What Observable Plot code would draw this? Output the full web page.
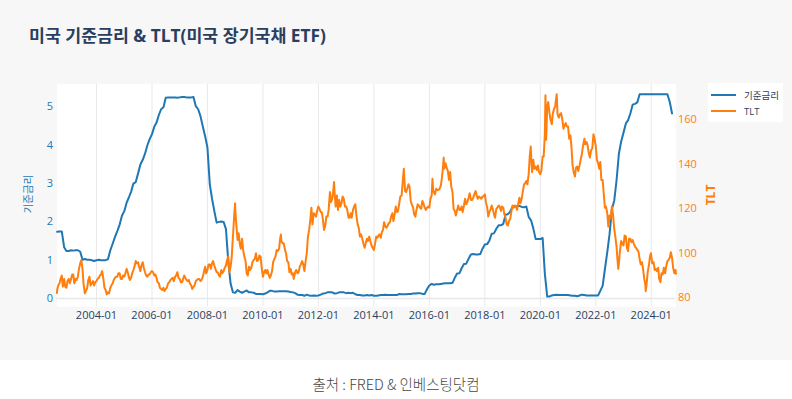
<!DOCTYPE html>
<html>
<head>
<meta charset="utf-8">
<script src="https://cdn.jsdelivr.net/npm/d3@7"></script>
<script src="https://cdn.jsdelivr.net/npm/@observablehq/plot@0.6"></script>
<style>
  html, body { margin: 0; padding: 0; background: #ffffff; }
  #wrap { position: relative; width: 792px; height: 399px; overflow: hidden; background: #ffffff;
          font-family: "Open Sans", "Noto Sans CJK KR", sans-serif; }
  #panel { position: absolute; left: 0; top: 0; width: 792px; height: 360px; background: #f7f7f7; }
  #title { position: absolute; left: 29px; top: 22px; font-size: 17.3px; font-weight: 700; color: #2a3f5f; white-space: nowrap; }
  .ytitle { position: absolute; white-space: nowrap; transform: translate(-50%, -50%) rotate(-90deg); }
  #ylab { left: 27px; top: 194px; font-size: 10.5px; color: #1f77b4; }
  #y2lab { left: 710px; top: 195px; font-size: 12px; font-weight: 700; color: #ff7f0e; }
  #legend { position: absolute; left: 708px; top: 83px; width: 75px; height: 39px; background: #ffffff; }
  .li { position: absolute; left: 3px; height: 14px; display: flex; align-items: center; font-size: 9.5px; color: #2a3f5f; white-space: nowrap; }
  .li span.sw { display: inline-block; width: 25px; height: 2px; margin-right: 8px; }
  #caption { position: absolute; left: 0; width: 792px; top: 373px; text-align: center; font-family: "Noto Sans CJK KR", sans-serif; font-weight: 300; font-size: 14.5px; color: #444; }
</style>
</head>
<body>
<div id="wrap">
  <div id="panel"></div>
  <div id="title">미국 기준금리 &amp; TLT(미국 장기국채 ETF)</div>
  <div id="layers"></div>
  <div id="ylab" class="ytitle">기준금리</div>
  <div id="y2lab" class="ytitle">TLT</div>
  <div id="legend">
    <div class="li" style="top:5px"><span class="sw" style="background:#1f77b4"></span>기준금리</div>
    <div class="li" style="top:21px"><span class="sw" style="background:#ff7f0e"></span>TLT</div>
  </div>
  <div id="caption">출처 : FRED &amp; 인베스팅닷컴</div>
</div>
<script>
// ---- data ----
// US effective federal funds rate (monthly), starting Aug 2002
const fedStartYear = 2002, fedStartMonth = 7; // 0-based month (Aug)
const fedRate = [
  1.74, 1.75, 1.75, 1.34, 1.24,
  1.24, 1.26, 1.25, 1.26, 1.26, 1.22, 1.01, 1.03, 1.01, 1.01, 1.00, 0.98,
  1.00, 1.01, 1.00, 1.00, 1.00, 1.03, 1.26, 1.43, 1.61, 1.76, 1.93, 2.16,
  2.28, 2.50, 2.63, 2.79, 3.00, 3.04, 3.26, 3.50, 3.62, 3.78, 4.00, 4.16,
  4.29, 4.49, 4.59, 4.79, 4.94, 4.99, 5.24, 5.25, 5.25, 5.25, 5.25, 5.24,
  5.25, 5.26, 5.26, 5.25, 5.25, 5.25, 5.26, 5.02, 4.94, 4.76, 4.49, 4.24,
  3.94, 2.98, 2.61, 2.28, 1.98, 2.00, 2.01, 2.00, 1.81, 0.97, 0.39, 0.16,
  0.15, 0.22, 0.18, 0.15, 0.18, 0.21, 0.16, 0.16, 0.15, 0.12, 0.12, 0.12,
  0.11, 0.13, 0.16, 0.20, 0.20, 0.18, 0.18, 0.19, 0.19, 0.19, 0.19, 0.18,
  0.17, 0.16, 0.14, 0.10, 0.09, 0.09, 0.07, 0.10, 0.08, 0.07, 0.08, 0.07,
  0.08, 0.10, 0.13, 0.14, 0.16, 0.16, 0.16, 0.13, 0.14, 0.16, 0.16, 0.16,
  0.14, 0.15, 0.14, 0.15, 0.11, 0.09, 0.09, 0.08, 0.08, 0.09, 0.08, 0.09,
  0.07, 0.07, 0.08, 0.09, 0.09, 0.10, 0.09, 0.09, 0.09, 0.09, 0.09, 0.12,
  0.11, 0.11, 0.11, 0.12, 0.12, 0.13, 0.13, 0.14, 0.14, 0.12, 0.12, 0.24,
  0.34, 0.38, 0.36, 0.37, 0.37, 0.38, 0.39, 0.40, 0.40, 0.40, 0.41, 0.54,
  0.65, 0.66, 0.79, 0.90, 0.91, 1.04, 1.15, 1.16, 1.15, 1.15, 1.16, 1.30,
  1.41, 1.42, 1.51, 1.69, 1.70, 1.82, 1.91, 1.91, 1.95, 2.19, 2.20, 2.27,
  2.40, 2.40, 2.41, 2.42, 2.39, 2.38, 2.40, 2.13, 2.04, 1.83, 1.55, 1.55,
  1.55, 1.58, 0.65, 0.05, 0.05, 0.08, 0.09, 0.10, 0.09, 0.09, 0.09, 0.09,
  0.09, 0.08, 0.07, 0.07, 0.06, 0.08, 0.10, 0.09, 0.08, 0.08, 0.08, 0.08,
  0.08, 0.08, 0.20, 0.33, 0.77, 1.21, 1.68, 2.33, 2.56, 3.08, 3.78, 4.10,
  4.33, 4.57, 4.65, 4.83, 5.06, 5.08, 5.12, 5.33, 5.33, 5.33, 5.33, 5.33,
  5.33, 5.33, 5.33, 5.33, 5.33, 5.33, 5.33, 5.33, 5.13, 4.83
];

// TLT close price (roughly twice a month)
const tltSeries = [
  ["2002-07-30",82.2],["2002-08-01",83.5],["2002-08-15",85.5],["2002-09-01",86.5],["2002-09-15",88.5],["2002-10-01",90.0],["2002-10-15",85.0],["2002-11-01",88.5],["2002-11-15",85.0],["2002-12-01",84.5],["2002-12-15",87.5],
  ["2003-01-01",88.5],["2003-01-15",86.5],["2003-02-01",88.5],["2003-02-15",90.5],["2003-03-01",90.5],["2003-03-15",86.5],["2003-04-01",88.5],["2003-04-15",88.0],["2003-05-01",89.5],["2003-05-15",93.0],["2003-06-01",95.5],["2003-06-15",97.0],["2003-07-01",93.0],["2003-07-15",86.0],["2003-08-01",82.0],["2003-08-15",83.0],["2003-09-01",84.5],["2003-09-15",88.0],["2003-10-01",89.5],["2003-10-15",85.5],["2003-11-01",86.5],["2003-11-15",87.5],["2003-12-01",85.5],["2003-12-15",87.0],
  ["2004-01-01",87.5],["2004-01-15",88.5],["2004-02-01",89.0],["2004-02-15",90.0],["2004-03-01",90.5],["2004-03-15",92.0],["2004-04-01",88.5],["2004-04-15",84.5],["2004-05-01",83.5],["2004-05-15",81.5],["2004-06-01",82.5],["2004-06-15",82.0],["2004-07-01",84.5],["2004-07-15",85.5],["2004-08-01",86.5],["2004-08-15",88.0],["2004-09-01",89.0],["2004-09-15",89.5],["2004-10-01",89.5],["2004-10-15",91.0],["2004-11-01",91.0],["2004-11-15",88.5],["2004-12-01",88.5],["2004-12-15",90.0],
  ["2005-01-01",89.5],["2005-01-15",91.0],["2005-02-01",93.0],["2005-02-15",91.5],["2005-03-01",89.5],["2005-03-15",88.0],["2005-04-01",89.0],["2005-04-15",91.0],["2005-05-01",92.5],["2005-05-15",94.0],["2005-06-01",96.5],["2005-06-15",95.5],["2005-07-01",96.0],["2005-07-15",94.0],["2005-08-01",92.0],["2005-08-15",94.5],["2005-09-01",96.0],["2005-09-15",93.5],["2005-10-01",91.5],["2005-10-15",90.0],["2005-11-01",89.5],["2005-11-15",90.5],["2005-12-01",90.5],["2005-12-15",91.5],
  ["2006-01-01",92.0],["2006-01-15",91.5],["2006-02-01",90.0],["2006-02-15",90.5],["2006-03-01",89.0],["2006-03-15",87.0],["2006-04-01",86.5],["2006-04-15",84.5],["2006-05-01",84.0],["2006-05-15",83.5],["2006-06-01",84.5],["2006-06-15",83.0],["2006-07-01",84.0],["2006-07-15",84.5],["2006-08-01",86.5],["2006-08-15",87.0],["2006-09-01",88.0],["2006-09-15",88.5],["2006-10-01",89.0],["2006-10-15",87.5],["2006-11-01",89.5],["2006-11-15",90.0],["2006-12-01",91.5],["2006-12-15",89.0],
  ["2007-01-01",88.5],["2007-01-15",87.0],["2007-02-01",87.0],["2007-02-15",88.5],["2007-03-01",90.0],["2007-03-15",89.0],["2007-04-01",88.0],["2007-04-15",87.5],["2007-05-01",88.0],["2007-05-15",86.5],["2007-06-01",85.5],["2007-06-15",84.0],["2007-07-01",85.0],["2007-07-15",85.5],["2007-08-01",87.5],["2007-08-15",88.0],["2007-09-01",88.5],["2007-09-15",88.5],["2007-10-01",87.5],["2007-10-15",88.0],["2007-11-01",89.5],["2007-11-15",91.5],["2007-12-01",94.0],["2007-12-15",91.0],
  ["2008-01-01",92.5],["2008-01-15",95.0],["2008-02-01",95.0],["2008-02-15",93.0],["2008-03-01",95.5],["2008-03-15",96.5],["2008-04-01",94.5],["2008-04-15",93.0],["2008-05-01",91.5],["2008-05-15",91.5],["2008-06-01",90.0],["2008-06-15",89.5],["2008-07-01",92.5],["2008-07-15",91.0],["2008-08-01",92.0],["2008-08-15",93.5],["2008-09-01",94.5],["2008-09-15",97.0],["2008-10-01",98.5],["2008-10-15",91.5],["2008-11-01",94.0],["2008-11-15",98.0],["2008-12-01",107.0],["2008-12-15",115.0],["2008-12-30",122.5],
  ["2009-01-01",120.0],["2009-01-15",113.0],["2009-02-01",106.0],["2009-02-15",109.0],["2009-03-01",104.5],["2009-03-15",102.0],["2009-04-01",106.5],["2009-04-15",101.5],["2009-05-01",98.5],["2009-05-15",97.0],["2009-06-01",91.0],["2009-06-15",90.0],["2009-07-01",94.0],["2009-07-15",92.5],["2009-08-01",93.5],["2009-08-15",96.0],["2009-09-01",97.0],["2009-09-15",97.5],["2009-10-01",100.0],["2009-10-15",96.5],["2009-11-01",97.0],["2009-11-15",99.0],["2009-12-01",98.5],["2009-12-15",93.5],
  ["2010-01-01",89.5],["2010-01-15",91.5],["2010-02-01",92.5],["2010-02-15",91.0],["2010-03-01",92.5],["2010-03-15",90.5],["2010-04-01",89.0],["2010-04-15",90.0],["2010-05-01",92.0],["2010-05-15",96.0],["2010-06-01",97.5],["2010-06-15",98.5],["2010-07-01",101.5],["2010-07-15",101.0],["2010-08-01",102.0],["2010-08-15",106.5],["2010-08-25",108.5],["2010-09-01",105.5],["2010-09-15",104.5],["2010-10-01",104.5],["2010-10-15",102.0],["2010-11-01",100.0],["2010-11-15",96.5],["2010-12-01",96.0],["2010-12-15",91.5],
  ["2011-01-01",93.0],["2011-01-15",90.5],["2011-02-01",91.0],["2011-02-10",88.5],["2011-02-15",89.5],["2011-03-01",91.5],["2011-03-15",92.5],["2011-04-01",91.0],["2011-04-15",91.5],["2011-05-01",94.0],["2011-05-15",95.0],["2011-06-01",96.5],["2011-06-15",95.0],["2011-07-01",92.0],["2011-07-15",96.0],["2011-08-01",100.0],["2011-08-15",107.0],["2011-09-01",110.5],["2011-09-15",114.5],["2011-10-01",120.5],["2011-10-15",113.0],["2011-11-01",118.0],["2011-11-15",117.5],["2011-12-01",116.5],["2011-12-15",119.0],
  ["2012-01-01",121.0],["2012-01-15",120.0],["2012-02-01",118.5],["2012-02-15",118.5],["2012-03-01",115.0],["2012-03-15",110.5],["2012-04-01",112.5],["2012-04-15",116.5],["2012-05-01",116.5],["2012-05-15",119.5],["2012-06-01",127.5],["2012-06-15",123.0],["2012-07-01",124.5],["2012-07-15",128.0],["2012-07-25",132.0],["2012-08-01",127.5],["2012-08-15",121.0],["2012-09-01",126.0],["2012-09-15",119.5],["2012-10-01",124.0],["2012-10-15",121.0],["2012-11-01",122.5],["2012-11-15",125.5],["2012-12-01",124.5],["2012-12-15",121.0],
  ["2013-01-01",121.0],["2013-01-15",119.5],["2013-02-01",116.0],["2013-02-15",116.0],["2013-03-01",118.0],["2013-03-15",116.0],["2013-04-01",119.5],["2013-04-15",121.0],["2013-05-01",122.0],["2013-05-15",117.0],["2013-06-01",113.0],["2013-06-15",111.5],["2013-07-01",107.5],["2013-07-15",108.5],["2013-08-01",106.5],["2013-08-15",104.5],["2013-09-01",102.5],["2013-09-15",104.5],["2013-10-01",106.5],["2013-10-15",105.5],["2013-11-01",107.5],["2013-11-15",105.5],["2013-12-01",103.5],["2013-12-15",102.5],
  ["2014-01-01",101.5],["2014-01-15",104.0],["2014-02-01",107.5],["2014-02-15",107.0],["2014-03-01",108.0],["2014-03-15",108.5],["2014-04-01",107.0],["2014-04-15",109.5],["2014-05-01",110.5],["2014-05-15",114.0],["2014-06-01",112.0],["2014-06-15",111.5],["2014-07-01",112.5],["2014-07-15",113.5],["2014-08-01",114.0],["2014-08-15",116.5],["2014-09-01",118.0],["2014-09-15",114.5],["2014-10-01",117.5],["2014-10-15",121.0],["2014-11-01",118.5],["2014-11-15",119.0],["2014-12-01",122.5],["2014-12-15",125.5],
  ["2015-01-01",126.0],["2015-01-15",132.0],["2015-01-30",138.0],["2015-02-15",128.0],["2015-03-01",127.5],["2015-03-15",129.0],["2015-04-01",131.0],["2015-04-15",130.0],["2015-05-01",123.5],["2015-05-15",122.0],["2015-06-01",120.5],["2015-06-15",117.5],["2015-07-01",116.5],["2015-07-15",119.5],["2015-08-01",122.0],["2015-08-15",121.5],["2015-09-01",120.5],["2015-09-15",120.0],["2015-10-01",123.5],["2015-10-15",122.5],["2015-11-01",120.5],["2015-11-15",119.5],["2015-12-01",120.5],["2015-12-15",121.0],
  ["2016-01-01",120.5],["2016-01-15",124.5],["2016-02-01",126.0],["2016-02-11",133.5],["2016-02-20",128.5],["2016-03-01",127.5],["2016-03-15",126.5],["2016-04-01",129.0],["2016-04-15",128.5],["2016-05-01",128.5],["2016-05-15",129.0],["2016-06-01",130.5],["2016-06-15",134.0],["2016-07-01",139.5],["2016-07-08",143.0],["2016-07-15",138.0],["2016-08-01",140.5],["2016-08-15",138.5],["2016-09-01",137.0],["2016-09-15",133.0],["2016-10-01",136.5],["2016-10-15",130.0],["2016-11-01",127.5],["2016-11-15",120.0],["2016-12-01",119.0],["2016-12-15",117.0],
  ["2017-01-01",119.5],["2017-01-15",121.5],["2017-02-01",119.5],["2017-02-15",119.5],["2017-03-01",121.0],["2017-03-15",118.5],["2017-04-01",121.5],["2017-04-15",124.5],["2017-05-01",122.0],["2017-05-15",123.0],["2017-06-01",125.0],["2017-06-15",127.0],["2017-07-01",124.0],["2017-07-15",124.0],["2017-08-01",125.0],["2017-08-15",126.5],["2017-09-01",128.0],["2017-09-15",126.0],["2017-10-01",124.5],["2017-10-15",125.5],["2017-11-01",125.0],["2017-11-15",124.5],["2017-12-01",125.5],["2017-12-15",125.5],
  ["2018-01-01",126.5],["2018-01-15",123.0],["2018-02-01",120.5],["2018-02-15",116.5],["2018-03-01",118.5],["2018-03-15",119.5],["2018-04-01",121.5],["2018-04-15",120.0],["2018-05-01",117.5],["2018-05-15",116.0],["2018-06-01",120.0],["2018-06-15",120.5],["2018-07-01",121.5],["2018-07-15",121.0],["2018-08-01",119.0],["2018-08-15",121.0],["2018-09-01",120.5],["2018-09-15",117.5],["2018-10-01",116.0],["2018-10-15",113.0],["2018-11-01",112.5],["2018-11-15",114.5],["2018-12-01",115.5],["2018-12-15",118.5],
  ["2019-01-01",121.5],["2019-01-15",120.5],["2019-02-01",121.5],["2019-02-15",121.0],["2019-03-01",119.5],["2019-03-15",122.0],["2019-04-01",125.0],["2019-04-15",122.5],["2019-05-01",124.5],["2019-05-15",127.5],["2019-06-01",131.0],["2019-06-15",131.5],["2019-07-01",132.5],["2019-07-15",131.0],["2019-08-01",135.5],["2019-08-15",143.5],["2019-08-28",148.0],["2019-09-05",142.0],["2019-09-15",136.5],["2019-10-01",142.0],["2019-10-15",138.0],["2019-11-01",139.0],["2019-11-15",137.5],["2019-12-01",139.5],["2019-12-15",136.5],
  ["2020-01-01",135.5],["2020-01-15",137.0],["2020-02-01",143.5],["2020-02-15",143.5],["2020-03-01",153.5],["2020-03-09",171.0],["2020-03-18",151.0],["2020-04-01",166.0],["2020-04-15",168.0],["2020-05-01",163.0],["2020-05-15",160.0],["2020-06-01",158.0],["2020-06-15",163.0],["2020-07-01",165.0],["2020-07-15",166.0],["2020-08-04",171.5],["2020-08-15",162.5],["2020-09-01",161.0],["2020-09-15",162.5],["2020-10-01",163.0],["2020-10-15",160.5],["2020-11-01",156.0],["2020-11-15",157.5],["2020-12-01",158.5],["2020-12-15",157.0],
  ["2021-01-01",157.0],["2021-01-15",151.5],["2021-02-01",153.0],["2021-02-15",147.5],["2021-03-01",139.5],["2021-03-15",136.5],["2021-04-01",134.5],["2021-04-15",138.5],["2021-05-01",139.0],["2021-05-15",137.0],["2021-06-01",139.5],["2021-06-15",142.0],["2021-07-01",144.5],["2021-07-15",148.0],["2021-08-04",151.5],["2021-08-15",149.0],["2021-09-01",150.0],["2021-09-15",148.5],["2021-10-01",145.0],["2021-10-15",143.0],["2021-11-01",146.5],["2021-11-15",147.0],["2021-12-01",153.5],["2021-12-15",151.5],
  ["2022-01-01",148.0],["2022-01-15",142.0],["2022-02-01",140.5],["2022-02-15",138.0],["2022-03-01",141.0],["2022-03-15",133.0],["2022-04-01",133.0],["2022-04-15",127.0],["2022-05-01",120.5],["2022-05-15",121.0],["2022-06-01",118.0],["2022-06-15",112.0],["2022-07-01",117.0],["2022-07-15",115.5],["2022-08-01",121.0],["2022-08-15",117.5],["2022-09-01",111.0],["2022-09-15",107.5],["2022-10-01",103.0],["2022-10-15",96.5],["2022-10-24",93.0],["2022-11-01",95.5],["2022-11-15",101.0],["2022-12-01",105.5],["2022-12-15",104.5],
  ["2023-01-01",103.5],["2023-01-15",108.0],["2023-02-01",107.5],["2023-02-15",102.5],["2023-03-01",101.0],["2023-03-15",106.5],["2023-04-01",106.5],["2023-04-15",105.0],["2023-05-01",106.0],["2023-05-15",104.5],["2023-06-01",103.0],["2023-06-15",102.5],["2023-07-01",101.5],["2023-07-15",101.0],["2023-08-01",97.5],["2023-08-15",95.0],["2023-09-01",96.0],["2023-09-15",93.0],["2023-10-01",88.5],["2023-10-15",86.0],["2023-10-20",83.0],["2023-11-01",86.0],["2023-11-15",91.5],["2023-12-01",94.5],["2023-12-15",98.5],["2023-12-27",100.0],
  ["2024-01-01",99.0],["2024-01-15",95.5],["2024-02-01",96.0],["2024-02-15",92.5],["2024-03-01",93.0],["2024-03-15",92.0],["2024-04-01",93.5],["2024-04-15",88.5],["2024-05-01",87.0],["2024-05-15",91.0],["2024-06-01",90.5],["2024-06-15",93.5],["2024-07-01",91.0],["2024-07-15",94.0],["2024-08-01",96.5],["2024-08-15",97.0],["2024-09-01",98.0],["2024-09-15",100.5],["2024-10-01",98.0],["2024-10-15",93.5],["2024-11-01",91.0],["2024-11-15",92.5],["2024-11-22",90.8]
];

const xTickYears = [2004, 2006, 2008, 2010, 2012, 2014, 2016, 2018, 2020, 2022, 2024];
const fedTicks = [0, 1, 2, 3, 4, 5];
const tltTicks = [80, 100, 120, 140, 160];
const xDomain = ["2002-07-30", "2024-11-22"];
const fedDomain = [-0.214, 5.594];
const tltDomain = [76.0, 176.0];

// ---- build ----
const fedData = fedRate.map((v, i) => ({date: new Date(Date.UTC(fedStartYear, fedStartMonth + i, 1)), value: v}));
const tltData = tltSeries.map(([d, v]) => ({date: new Date(d + "T00:00:00Z"), value: v}));
const xTicks = xTickYears.map(y => new Date(Date.UTC(y, 0, 1)));

const W = 792, H = 360;
const M = {left: 56.5, right: 116.5, top: 83.7, bottom: 53.8};
const common = {
  width: W, height: H,
  marginLeft: M.left, marginRight: M.right, marginTop: M.top, marginBottom: M.bottom,
  style: {background: "transparent", fontFamily: "'Open Sans', 'Noto Sans CJK KR', sans-serif", fontSize: "11px", overflow: "visible"},
  x: {type: "utc", domain: xDomain.map(d => new Date(d + "T00:00:00Z"))}
};

const fedPlot = Plot.plot({
  ...common,
  y: {domain: fedDomain},
  marks: [
    Plot.frame({fill: "#ffffff", stroke: null}),
    Plot.gridX(xTicks, {stroke: "#e9e9ec", strokeOpacity: 1, strokeWidth: 1}),
    Plot.ruleY([0], {stroke: "#e6e8ec", strokeWidth: 1.5}),
    Plot.axisX(xTicks, {tickFormat: d3.utcFormat("%Y-%m"), tickSize: 0, tickPadding: 4, fill: "#2a3f5f", label: null}),
    Plot.axisY(fedTicks, {anchor: "left", tickSize: 0, tickPadding: 4, fill: "#1f77b4", label: null}),
    Plot.lineY(fedData, {x: "date", y: "value", stroke: "#1f77b4", strokeWidth: 2, curve: "linear"})
  ]
});

const tltPlot = Plot.plot({
  ...common,
  y: {domain: tltDomain},
  marks: [
    Plot.axisY(tltTicks, {anchor: "right", tickSize: 0, tickPadding: 2, fill: "#ff7f0e", label: null}),
    Plot.axisX([], {label: null}),
    Plot.lineY(tltData, {x: "date", y: "value", stroke: "#ff7f0e", strokeWidth: 2, curve: "linear"})
  ]
});

const layers = document.getElementById("layers");
fedPlot.style.position = "absolute"; fedPlot.style.left = "0"; fedPlot.style.top = "0";
tltPlot.style.position = "absolute"; tltPlot.style.left = "0"; tltPlot.style.top = "0";
layers.appendChild(fedPlot);
layers.appendChild(tltPlot);
</script>
</body>
</html>
